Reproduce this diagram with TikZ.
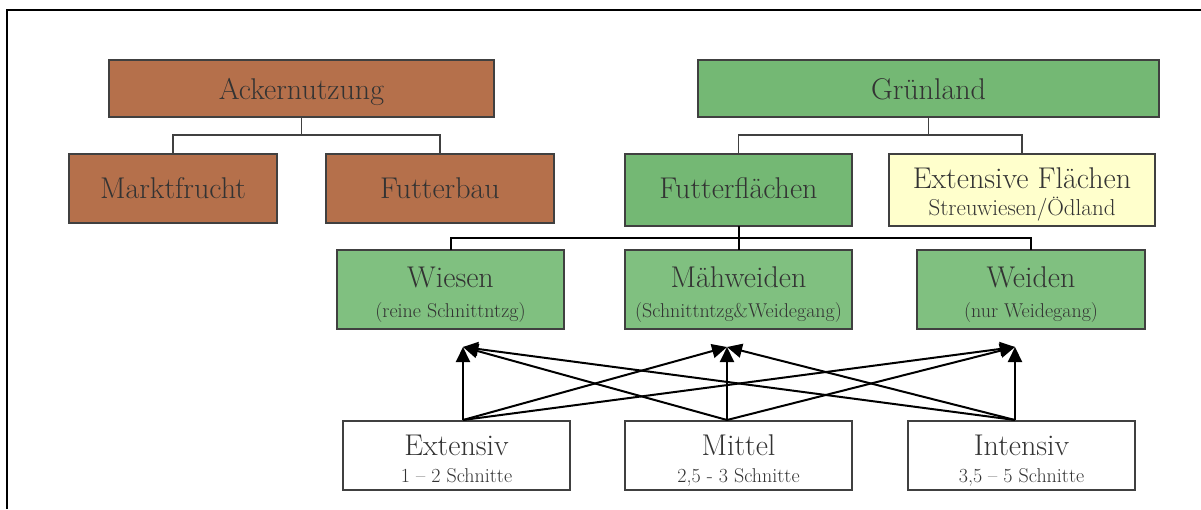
\documentclass[tikz,border=0pt]{standalone}
\usepackage{fontspec}
\usetikzlibrary{arrows.meta,fit}

\definecolor{ackerfarbe}{HTML}{B5704B}
\definecolor{gruenfarbe}{HTML}{74B874}
\definecolor{gruenhell}{HTML}{80C080}
\definecolor{gelbfarbe}{HTML}{FFFFCC}
\definecolor{randfarbe}{HTML}{404040}
\definecolor{schrift}{HTML}{333333}

\begin{document}
\begin{tikzpicture}[x=1pt,y=-1pt,
  box/.style={draw=randfarbe, line width=2pt, inner sep=0pt, outer sep=0pt},
  braun/.style={box, fill=ackerfarbe},
  gruen/.style={box, fill=gruenfarbe},
  hellgruen/.style={box, fill=gruenhell},
  gelb/.style={box, fill=gelbfarbe},
  weiss/.style={box, fill=white},
  big/.style={anchor=base, inner sep=0pt, text=schrift, font=\fontsize{30}{30}\selectfont},
  mid/.style={anchor=base, inner sep=0pt, text=schrift, font=\fontsize{23}{23}\selectfont},
  small/.style={anchor=base, inner sep=0pt, text=schrift, font=\fontsize{20}{20}\selectfont},
  tree/.style={draw=randfarbe, line width=1.6pt},
  link/.style={draw=black, line width=2pt},
  pfeil/.style={draw=black, line width=2pt, -{Triangle[length=15pt,width=14pt]}}]

\useasboundingbox (0,0) rectangle (1201,509);

% outer frame (top and left edge)
\draw[line width=2pt] (7,509) -- (7,10) -- (1201,10);

% --- Ackernutzung branch
\node[braun, fit={(109,60) (494,117)}] (acker) {};
\node[braun, fit={(69,154) (277,223)}] (markt) {};
\node[braun, fit={(326,154) (554,223)}] (futterbau) {};
\node[big] (acker-t) at (acker.center |- 0,99) {Ackernutzung};
\node[big] (markt-t) at (markt.center |- 0,198) {Marktfrucht};
\node[big] (futterbau-t) at (futterbau.center |- 0,198) {Futterbau};

\coordinate (aj) at (acker.south |- 0,135);
\draw[tree] (acker.south) -- (aj);
\draw[tree] (markt.north) |- (aj) -| (futterbau.north);

% --- Grünland branch
\node[gruen, fit={(698,60) (1159,117)}] (gruen) {};
\node[gruen, fit={(625,154) (852,226)}] (futterfl) {};
\node[gelb, fit={(889,154) (1155,226)}] (extfl) {};
\node[big] (gruen-t) at (gruen.center |- 0,99) {Grünland};
\node[big] (futterfl-t) at (futterfl.center |- 0,198) {Futterflächen};
\node[big] (extfl-t) at (extfl.center |- 0,188) {Extensive Flächen};
\node[mid] (extfl-s) at (extfl.center |- 0,215) {Streuwiesen/Ödland};

\coordinate (gj) at (gruen.south |- 0,135);
\draw[tree] (gruen.south) -- (gj);
\draw[tree] (futterfl.north) |- (gj) -| (extfl.north);

% --- types of forage land
\node[hellgruen, fit={(337,250) (564,329)}] (wiesen) {};
\node[hellgruen, fit={(625,250) (852,329)}] (maehw) {};
\node[hellgruen, fit={(917,250) (1145,329)}] (weiden) {};
\node[big] (wiesen-t) at (wiesen.center |- 0,287) {Wiesen};
\node[small] (wiesen-s) at (wiesen.center |- 0,317) {(reine Schnittntzg)};
\node[big] (maehw-t) at (maehw.center |- 0,287) {Mähweiden};
\node[small] (maehw-s) at (maehw.center |- 0,317) {(Schnittntzg\&Weidegang)};
\node[big] (weiden-t) at (weiden.center |- 0,287) {Weiden};
\node[small] (weiden-s) at (weiden.center |- 0,317) {(nur Weidegang)};

\coordinate (fj) at (futterfl.south |- 0,238);
\draw[link] (futterfl.south) -- (fj) -- (maehw.north);
\draw[link] (wiesen.north) |- (fj) -| (weiden.north);

% --- intensity levels
\node[weiss, fit={(343,421) (570,490)}] (ext) {};
\node[weiss, fit={(625,421) (852,490)}] (mittel) {};
\node[weiss, fit={(908,421) (1135,490)}] (intens) {};
\node[big] (ext-t) at (ext.center |- 0,455) {Extensiv};
\node[small] (ext-s) at (ext.center |- 0,482) {1 – 2 Schnitte};
\node[big] (mittel-t) at (mittel.center |- 0,455) {Mittel};
\node[small] (mittel-s) at (mittel.center |- 0,482) {2,5 - 3 Schnitte};
\node[big] (intens-t) at (intens.center |- 0,455) {Intensiv};
\node[small] (intens-s) at (intens.center |- 0,482) {3,5 – 5 Schnitte};

% every intensity level can apply to every type
\coordinate (s1) at (463,420);
\coordinate (s2) at (727,420);
\coordinate (s3) at (1015,420);
\coordinate (t1) at (463,347);
\coordinate (t2) at (727,347);
\coordinate (t3) at (1015,347);
\foreach \s in {s1,s2,s3}
  \foreach \t in {t1,t2,t3}
    \draw[pfeil] (\s) -- (\t);

\end{tikzpicture}
\end{document}
